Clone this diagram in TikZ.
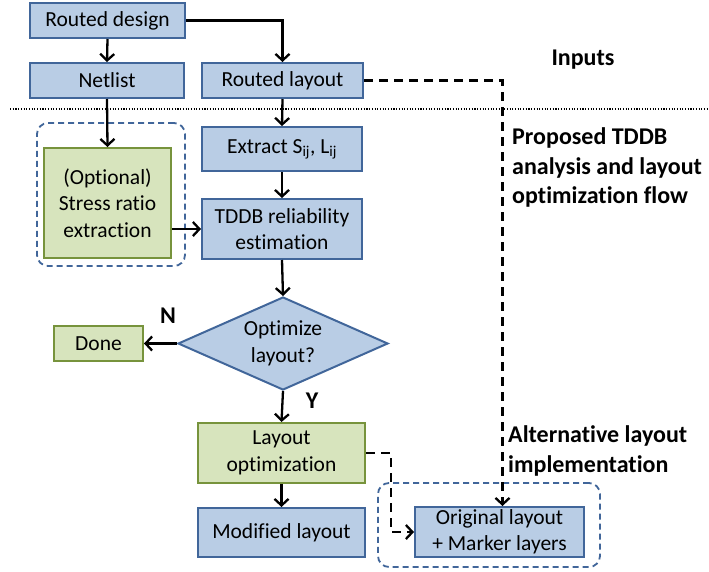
\documentclass[tikz,border=0pt]{standalone}
\usepackage{fontspec}
\setmainfont{Carlito}[Ligatures={NoCommon}]
\usetikzlibrary{arrows.meta,shapes.geometric}
\definecolor{bfill}{HTML}{B9CDE5}
\definecolor{bdraw}{HTML}{41669A}
\definecolor{gfill}{HTML}{D7E4BD}
\definecolor{gdraw}{HTML}{77933C}
\begin{document}
\begin{tikzpicture}[x=1pt,y=-1pt, font=\fontsize{21.5}{26.5}\selectfont,
 bluebox/.style={draw=bdraw, fill=bfill, line width=2pt, align=center, inner sep=0pt},
 greenbox/.style={draw=gdraw, fill=gfill, line width=2pt, align=center, inner sep=0pt},
 conn/.style={line width=2.3pt, -{Straight Barb[length=6.5pt,width=14pt,line width=2.3pt]}},
 dconn/.style={conn, dash pattern=on 9pt off 6pt},
 group/.style={draw=bdraw, line width=1.8pt, dash pattern=on 6pt off 4pt, rounded corners=11pt},
 lbl/.style={font=\fontsize{24}{29.5}\selectfont\bfseries, align=left, inner sep=0pt}]
\useasboundingbox (0,0) rectangle (709,571);

\node[group, minimum width=148pt, minimum height=143pt] (g1) at (111,194.5) {};
\node[group, minimum width=222pt, minimum height=84pt] (g2) at (489,525) {};

\draw[line width=1.1pt, dash pattern=on 1.1pt off 1.6pt] (10,109) coordinate (d1) -- (709,109) coordinate (d2);

\node[bluebox, minimum width=155pt, minimum height=35pt] (rd) at (107.5,20.5) {Routed design};
\node[bluebox, minimum width=154pt, minimum height=35pt] (nl) at (107,80.5) {Netlist};
\node[bluebox, minimum width=161pt, minimum height=35pt] (rl) at (282.5,80.5) {Routed layout};
\node[bluebox, minimum width=160pt, minimum height=44pt] (ex) at (282,149) {Extract S\textsubscript{ij}, L\textsubscript{ij}};
\node[greenbox, minimum width=127pt, minimum height=110pt] (st) at (107.5,203) {(Optional)\\Stress ratio\\extraction};
\node[bluebox, minimum width=160pt, minimum height=60pt] (td) at (282,229) {TDDB reliability\\estimation};
\node[bluebox, diamond, shape aspect=2.26, minimum width=210pt, minimum height=93pt] (dm) at (283,343.5) {Optimize\\layout?};
\node[greenbox, minimum width=89pt, minimum height=35pt] (dn) at (98.5,343.5) {Done};
\node[greenbox, minimum width=167pt, minimum height=60pt] (lo) at (281.5,453) {Layout\\optimization};
\node[bluebox, minimum width=167pt, minimum height=49pt] (ml) at (281.5,532.5) {Modified layout};
\node[bluebox, minimum width=169pt, minimum height=50pt] (ol) at (499.5,532) {Original layout\\+ Marker layers};

\node[lbl] (n) at (168,316) {N};
\node[lbl] (y) at (312,401) {Y};
\node[lbl] (inp) at (583,60) {Inputs};
\node[lbl, anchor=west] (prop) at (512,167.5) {Proposed TDDB\\analysis and layout\\optimization flow};
\node[lbl, anchor=west] (alt) at (508,451) {Alternative layout\\implementation};

\draw[conn] (rd.east) -| (rl.north);
\draw[conn] (rd.south) -- (nl.north);
\draw[conn] (nl.south) -- (st.north);
\draw[conn] (rl.south) -- (ex.north);
\draw[conn] (ex.south) -- (td.north);
\draw[conn] (st.east |- td.west) -- (td.west);
\draw[conn] (td.south) -- (dm.north);
\draw[conn] (dm.west) -- (dn.east);
\draw[conn] (dm.south) -- (lo.north);
\draw[conn] (lo.south) -- (ml.north);
\draw[dconn] (lo.east) -- ++(25,0) |- (ol.west);
\draw[dconn] (rl.east) -| ([xshift=3pt]ol.north);
\end{tikzpicture}
\end{document}
